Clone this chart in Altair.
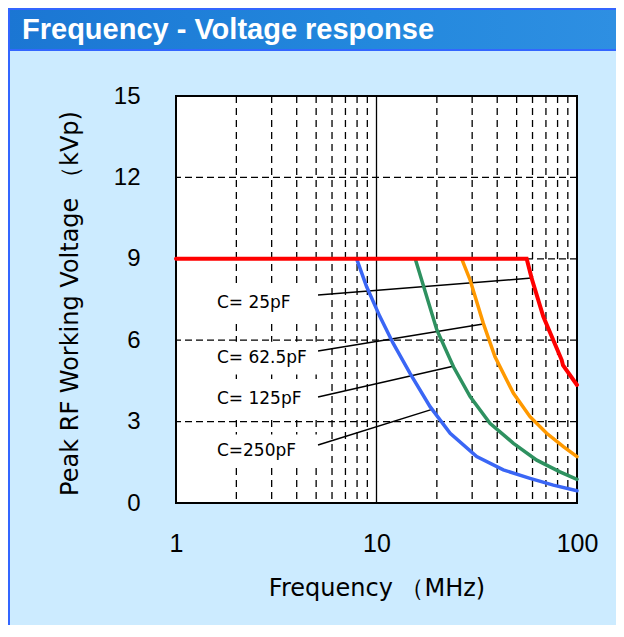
import altair as alt
import pandas as pd

# ---- data ----
red_f = [1, 56.1, 59.4, 67.9, 83.9, 85.1, 100]
red_v = [9, 9, 8.28, 6.87, 5.27, 5.08, 4.35]

orange_f = [26.6, 29.3, 34.1, 39.0, 48.2, 58.3, 70.6, 85.5, 100]
orange_v = [9, 8.22, 6.62, 5.39, 4.04, 3.18, 2.57, 2.08, 1.71]

green_f = [15.6, 16.8, 20.0, 24.2, 29.3, 36.8, 48.2, 63.0, 82.2, 100]
green_v = [9, 8.22, 6.38, 5.02, 3.92, 2.94, 2.20, 1.58, 1.15, 0.87]

blue_f = [7.96, 8.93, 10.4, 12.1, 14.7, 18.5, 23.3, 31.6, 42.9, 58.3, 76.2, 100]
blue_v = [9, 7.97, 6.87, 5.89, 4.78, 3.55, 2.57, 1.71, 1.22, 0.91, 0.66, 0.45]

label_text = ["C= 25pF", "C= 62.5pF", "C= 125pF", "C=250pF"]
label_f = [1.6, 1.6, 1.6, 1.6]
label_v = [7.37, 5.34, 3.83, 1.92]
leader_f1 = [5.11, 5.11, 5.11, 5.11]
leader_v1 = [7.67, 5.60, 3.91, 2.14]
leader_f2 = [59.5, 34.0, 24.4, 19.1]
leader_v2 = [8.29, 6.60, 5.05, 3.46]
label_box_f1 = [1.48, 1.48, 1.48, 1.48]
label_box_half = 0.6

x_ticks = [1, 10, 100]
y_ticks = [0, 3, 6, 9, 12, 15]
x_minor = [2, 3, 4, 5, 6, 7, 8, 9, 20, 30, 40, 50, 60, 70, 80, 90]
x_major = [10]
y_grid = [3, 6, 9, 12]

W, H = 401, 407
PL, PT, PR, PB = 168, 88, 39, 122

xs = alt.Scale(type="log", domain=[1, 100])
ys = alt.Scale(domain=[0, 15])

one = pd.DataFrame({"a": [0]})

# ---- decorations (outside plot area) ----
title_bar = alt.Chart(one).mark_rect(
    color=alt.Gradient(
        gradient="linear",
        stops=[alt.GradientStop(color="#1B76D3", offset=0),
               alt.GradientStop(color="#2388DD", offset=0.6),
               alt.GradientStop(color="#2E8FE2", offset=1)],
        x1=0, x2=1, y1=0, y2=0),
).encode(x=alt.value(-PL), x2=alt.value(W + PR), y=alt.value(-PT), y2=alt.value(-46))

border_top = alt.Chart(one).mark_rule(color="#3366FF", strokeWidth=2).encode(
    x=alt.value(-PL), x2=alt.value(W + PR), y=alt.value(-PT + 1))
border_bot = alt.Chart(one).mark_rule(color="#3366FF", strokeWidth=2).encode(
    x=alt.value(-PL), x2=alt.value(W + PR), y=alt.value(-46))
border_left = alt.Chart(one).mark_rule(color="#3366FF", strokeWidth=2).encode(
    x=alt.value(-PL + 1), y=alt.value(-PT), y2=alt.value(H + PB))

title_txt = alt.Chart(one).mark_text(
    text="Frequency - Voltage response", font="Liberation Sans", fontWeight="bold",
    fontSize=29, color="white", align="left", baseline="middle",
).encode(x=alt.value(-154), y=alt.value(-66))

# ---- grid ----
vgrid = alt.Chart(pd.DataFrame({"f": x_minor})).mark_rule(
    color="black", strokeWidth=1.3, strokeDash=[7, 5]).encode(x=alt.X("f:Q", scale=xs))
vmajor = alt.Chart(pd.DataFrame({"f": x_major})).mark_rule(
    color="black", strokeWidth=1.3).encode(x=alt.X("f:Q", scale=xs))
hgrid = alt.Chart(pd.DataFrame({"v": y_grid})).mark_rule(
    color="black", strokeWidth=1.3, strokeDash=[7, 4]).encode(y=alt.Y("v:Q", scale=ys))

# ---- axes carrier ----
axes = alt.Chart(one).mark_point(opacity=0).encode(
    x=alt.X("a:Q", scale=xs, axis=alt.Axis(
        values=x_ticks, format="d", title="Frequency （MHz)", grid=False, domain=False,
        ticks=False, tickSize=0, labelFlush=False, labelFont="Liberation Sans",
        labelFontSize=25, labelColor="black", labelPadding=28, labelBaseline="top",
        titleFont="DejaVu Sans", titleFontSize=24, titleFontWeight="normal",
        titleColor="black", titleY=85, titleBaseline="middle")),
    y=alt.Y("a:Q", scale=ys, axis=alt.Axis(
        values=y_ticks, title="Peak RF Working Voltage （kVp)", grid=False, domain=False,
        ticks=False, tickSize=0, labelFlush=False, labelFont="Liberation Sans",
        labelFontSize=24, labelColor="black", labelPadding=36,
        titleFont="DejaVu Sans", titleFontSize=24, titleFontWeight="normal",
        titleColor="black", titleX=-106, titleY=207, titleAngle=270,
        titleBaseline="middle", titleAlign="center")),
)

# ---- curves ----
def curve(fv, vv, color, width):
    df = pd.DataFrame({"f": fv, "v": vv})
    return alt.Chart(df).mark_line(color=color, strokeWidth=width, strokeCap="round").encode(
        x=alt.X("f:Q", scale=xs), y=alt.Y("v:Q", scale=ys))

c_blue = curve(blue_f, blue_v, "#3A66F5", 3.5)
c_green = curve(green_f, green_v, "#2E9160", 3.5)
c_orange = curve(orange_f, orange_v, "#FF9900", 3.5)
c_red = curve(red_f, red_v, "#FF0000", 4)

lab_df = pd.DataFrame({
    "t": label_text, "f": label_f, "v": label_v,
    "bf1": label_box_f1, "bf2": leader_f1,
    "bv1": [v - label_box_half for v in label_v],
    "bv2": [v + label_box_half for v in label_v],
})

label_boxes = alt.Chart(lab_df).mark_rect(color="white").encode(
    x=alt.X("bf1:Q", scale=xs), x2="bf2:Q", y=alt.Y("bv1:Q", scale=ys), y2="bv2:Q")

leaders = alt.Chart(pd.DataFrame({"f1": leader_f1, "v1": leader_v1,
                                  "f2": leader_f2, "v2": leader_v2})).mark_rule(
    color="black", strokeWidth=1.5).encode(
    x=alt.X("f1:Q", scale=xs), x2="f2:Q", y=alt.Y("v1:Q", scale=ys), y2="v2:Q")

labels = alt.Chart(lab_df).mark_text(
    font="DejaVu Sans", fontSize=17, color="black", align="left", baseline="middle").encode(
    x=alt.X("f:Q", scale=xs), y=alt.Y("v:Q", scale=ys), text="t:N")

chart = alt.layer(
    title_bar, border_top, border_bot, border_left, title_txt,
    vgrid, vmajor, hgrid, label_boxes, axes, leaders, c_blue, c_green, c_orange, c_red, labels,
).properties(
    width=W, height=H,
    autosize=alt.AutoSizeParams(type="none"),
    padding={"left": PL, "top": PT, "right": PR, "bottom": PB},
    background="#CCEBFF",
).configure_view(fill="white", stroke="black", strokeWidth=2)

chart.save("out.html", embed_options={"renderer": "svg", "actions": False})
